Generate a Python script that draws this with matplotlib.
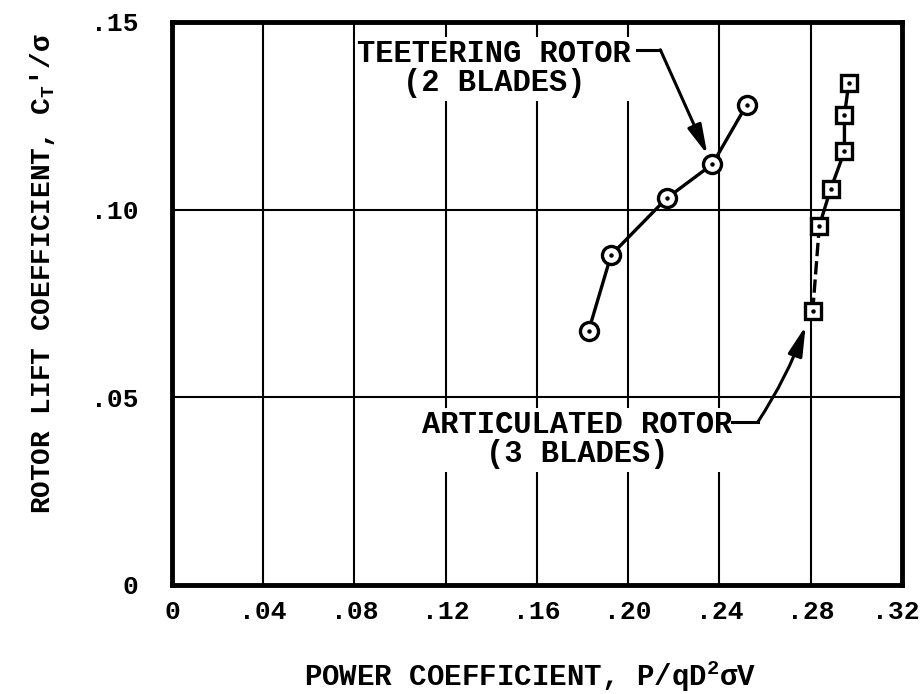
import matplotlib
matplotlib.use("Agg")
import matplotlib.pyplot as plt
import matplotlib.transforms as mtrans

# teetering rotor (2 blades)
teeter_cp = [0.1827, 0.1925, 0.2168, 0.2369, 0.2520]
teeter_ct = [0.0678, 0.0879, 0.1030, 0.1121, 0.1280]

# articulated rotor (3 blades)
artic_cp = [0.2809, 0.2838, 0.2887, 0.2948, 0.2948, 0.2967]
artic_ct = [0.0730, 0.0957, 0.1054, 0.1155, 0.1251, 0.1337]

x_ticks = [0, 0.04, 0.08, 0.12, 0.16, 0.20, 0.24, 0.28, 0.32]
x_labels = ["0", ".04", ".08", ".12", ".16", ".20", ".24", ".28", ".32"]
y_ticks = [0, 0.05, 0.10, 0.15]
y_labels = ["0", ".05", ".10", ".15"]

plt.rcParams["font.family"] = ["Liberation Mono", "DejaVu Sans Mono", "DejaVu Sans"]
plt.rcParams["font.weight"] = "bold"
plt.rcParams["axes.labelweight"] = "bold"
plt.rcParams["mathtext.fontset"] = "custom"
plt.rcParams["mathtext.rm"] = "Liberation Mono:bold"
plt.rcParams["mathtext.it"] = "Liberation Mono:bold"

fig = plt.figure(figsize=(9.24, 6.94), dpi=100)
ax = fig.add_axes([0.1861, 0.1571, 0.790, 0.8112])

ax.set_xlim(0, 0.32)
ax.set_ylim(0, 0.15)
ax.set_xticks(x_ticks)
ax.set_xticklabels(x_labels)
ax.set_yticks(y_ticks)
ax.set_yticklabels(y_labels)
ax.tick_params(length=0, labelsize=19)
ax.tick_params(axis="x", pad=11)
ax.tick_params(axis="y", pad=24)
ax.grid(True, color="black", linewidth=1.5)
for sp in ax.spines.values():
    sp.set_linewidth(3.5)

# keep the last x label inside the figure
last = ax.get_xticklabels()[-1]
last.set_transform(last.get_transform() + mtrans.ScaledTranslation(-0.06, 0, fig.dpi_scale_trans))

ax.set_xlabel("POWER COEFFICIENT, P/qD$^2$\u03c3V", fontsize=21)
ax.xaxis.label.set_va("center")
ax.xaxis.set_label_coords(0.49, -0.162)
ax.set_ylabel("ROTOR LIFT COEFFICIENT, C$_T$'/\u03c3", fontsize=20)
ax.yaxis.label.set_va("center")
ax.yaxis.set_label_coords(-0.178, 0.554)

# curves
ax.plot(teeter_cp, teeter_ct, color="black", linewidth=2.4, zorder=3)
ax.plot(artic_cp[1:], artic_ct[1:], color="black", linewidth=2.4, zorder=3)
ax.plot(artic_cp[:2], artic_ct[:2], color="black", linewidth=2.4, linestyle=(0, (4, 1.5)), zorder=3)

# markers
ax.plot(teeter_cp, teeter_ct, linestyle="none", marker="o", markersize=13,
        markerfacecolor="white", markeredgecolor="black", markeredgewidth=2.4, zorder=4)
ax.plot(artic_cp, artic_ct, linestyle="none", marker="s", markersize=11,
        markerfacecolor="white", markeredgecolor="black", markeredgewidth=2.4, zorder=4)
ax.plot(teeter_cp + artic_cp, teeter_ct + artic_ct, linestyle="none", marker="o",
        markersize=2.2, color="black", zorder=5)

# annotations
arrow = dict(arrowstyle="-|>,head_length=0.9,head_width=0.22", color="black",
             linewidth=2.2, shrinkA=0, shrinkB=0, mutation_scale=20)

ax.text(0.1413, 0.1375, "TEETERING ROTOR\n(2 BLADES)", ha="center", va="center",
        fontsize=22, linespacing=0.95, zorder=6,
        bbox=dict(facecolor="white", edgecolor="none", pad=2))
ax.plot([0.2040, 0.2141], [0.1426, 0.1426], color="black", linewidth=2.2, zorder=6)
ax.annotate("", xy=(0.2347, 0.1147), xytext=(0.2141, 0.1426),
            arrowprops=arrow, zorder=6)

ax.text(0.1776, 0.0387, "ARTICULATED ROTOR\n(3 BLADES)", ha="center", va="center",
        fontsize=22, linespacing=0.95, zorder=6,
        bbox=dict(facecolor="white", edgecolor="none", pad=2))
ax.plot([0.2457, 0.2567], [0.0433, 0.0433], color="black", linewidth=2.2, zorder=6)
ax.annotate("", xy=(0.2778, 0.0690), xytext=(0.2567, 0.0433),
            arrowprops=dict(arrow, connectionstyle="arc3,rad=0.06"), zorder=6)

fig.savefig("out.png", dpi=100)
